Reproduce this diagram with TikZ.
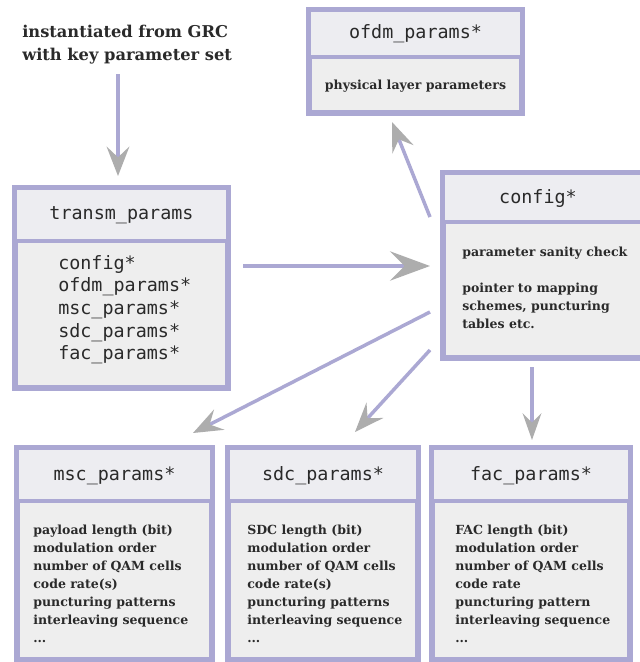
\documentclass[tikz,border=0pt]{standalone}
\usepackage{fontspec}
\setmainfont{DejaVu Serif}
\newfontfamily\monof{DejaVu Sans Mono}
\usetikzlibrary{arrows.meta}
\definecolor{frame}{HTML}{ABA8D3}
\definecolor{bodyfill}{HTML}{EEEEEE}
\definecolor{headfill}{HTML}{EDEDF1}
\definecolor{tipgray}{HTML}{ADADAD}
\definecolor{ink}{HTML}{2A2A2A}
\begin{document}
\begin{tikzpicture}[x=0.75pt,y=-0.75pt,
  boxframe/.style={draw=frame,line width=4.2pt,fill=bodyfill,inner sep=0pt},
  divider/.style={draw=frame,line width=2.6pt},
  headtext/.style={font=\monof\fontsize{13.8}{15}\selectfont,inner sep=0pt,text=ink},
  listtext/.style={font=\monof\fontsize{13.8}{17}\selectfont,inner sep=0pt,align=left,anchor=north west,text=ink},
  bodytext/.style={font=\bfseries\fontsize{9.4}{13.5}\selectfont,inner sep=0pt,align=left,anchor=north west,text=ink},
  link/.style={draw=frame,line width=2.6pt,
    -{Stealth[length=22pt,width=17pt,inset=8pt,color=tipgray]}},
  biglink/.style={link,-{Stealth[length=30pt,width=22pt,inset=11pt,color=tipgray]}},
  smalllink/.style={link,-{Stealth[length=20pt,width=14pt,inset=7pt,color=tipgray]}}]
\useasboundingbox (0,0) rectangle (640,662);
\fill[white] (0,0) rectangle (640,662);

% caption above the transmission parameter box
\node[font=\bfseries\fontsize{12.2}{17.5}\selectfont,align=left,anchor=north west,inner sep=0pt,text=ink]
  (grc) at (22,25) {instantiated from GRC\\with key parameter set};
\coordinate (grcend) at (118,74);

% ofdm_params
\node[boxframe,minimum width={213*0.75pt},minimum height={103*0.75pt}] (ofdm) at (415.5,61.5) {};
\fill[headfill] (311,12) rectangle (520,57);
\draw[divider] (309,57) -- (522,57);
\node[headtext] (ofdmh) at (415.5,34) {ofdm\_params*};
\node[bodytext,anchor=center] (ofdmb) at (415.5,86) {physical layer parameters};

% transm_params
\node[boxframe,minimum width={213*0.75pt},minimum height={200*0.75pt}] (transm) at (121.5,288) {};
\fill[headfill] (17,190) rectangle (226,241);
\draw[divider] (15,241) -- (228,241);
\node[headtext] (transmh) at (121.5,215) {transm\_params};
\node[listtext] (transmb) at (58,255) {config*\\ofdm\_params*\\msc\_params*\\sdc\_params*\\fac\_params*};

% config (runs past the right edge)
\node[boxframe,minimum width={205*0.75pt},minimum height={185*0.75pt}] (config) at (545.5,265.5) {};
\fill[headfill] (445,175) rectangle (650,222);
\draw[divider] (443,222) -- (650,222);
\node[headtext] (configh) at (538,198) {config*};
\node[bodytext] (configa) at (462,247) {parameter sanity check};
\node[bodytext] (configb) at (462,283) {pointer to mapping\\schemes, puncturing\\tables etc.};

% msc_params
\node[boxframe,minimum width={195*0.75pt},minimum height={212*0.75pt}] (msc) at (114.5,554) {};
\fill[headfill] (19,450) rectangle (210,501);
\draw[divider] (17,501) -- (212,501);
\node[headtext] (msch) at (114.5,476) {msc\_params*};
\node[bodytext] (mscb) at (33,525) {payload length (bit)\\modulation order\\number of QAM cells\\code rate(s)\\puncturing patterns\\interleaving sequence\\...};

% sdc_params
\node[boxframe,minimum width={190*0.75pt},minimum height={212*0.75pt}] (sdc) at (323,554) {};
\fill[headfill] (230,450) rectangle (416,501);
\draw[divider] (228,501) -- (418,501);
\node[headtext] (sdch) at (323,476) {sdc\_params*};
\node[bodytext] (sdcb) at (247,525) {SDC length (bit)\\modulation order\\number of QAM cells\\code rate(s)\\puncturing patterns\\interleaving sequence\\...};

% fac_params
\node[boxframe,minimum width={198*0.75pt},minimum height={212*0.75pt}] (fac) at (531,554) {};
\fill[headfill] (434,450) rectangle (628,501);
\draw[divider] (432,501) -- (630,501);
\node[headtext] (fach) at (531,476) {fac\_params*};
\node[bodytext] (facb) at (455,525) {FAC length (bit)\\modulation order\\number of QAM cells\\code rate\\puncturing pattern\\interleaving sequence\\...};

% connector end points
\coordinate (cfgup) at (430,217);
\coordinate (cfgmid) at (430,266);
\coordinate (cfgmsc) at (430,312);
\coordinate (cfgsdc) at (430,350);
\coordinate (cfgfac) at (532,367);
\coordinate (transmout) at (243,266);
\coordinate (ofdmin) at (392,122);
\coordinate (mscin) at (193,433);
\coordinate (sdcin) at (355,432);
\coordinate (facin) at (532,440);
\coordinate (transmin) at (118,176);

\draw[link] (grcend) -- (transmin);
\draw[biglink] (transmout) -- (cfgmid);
\draw[link] (cfgup) -- (ofdmin);
\draw[link] (cfgmsc) -- (mscin);
\draw[link] (cfgsdc) -- (sdcin);
\draw[smalllink] (cfgfac) -- (facin);
\end{tikzpicture}
\end{document}
